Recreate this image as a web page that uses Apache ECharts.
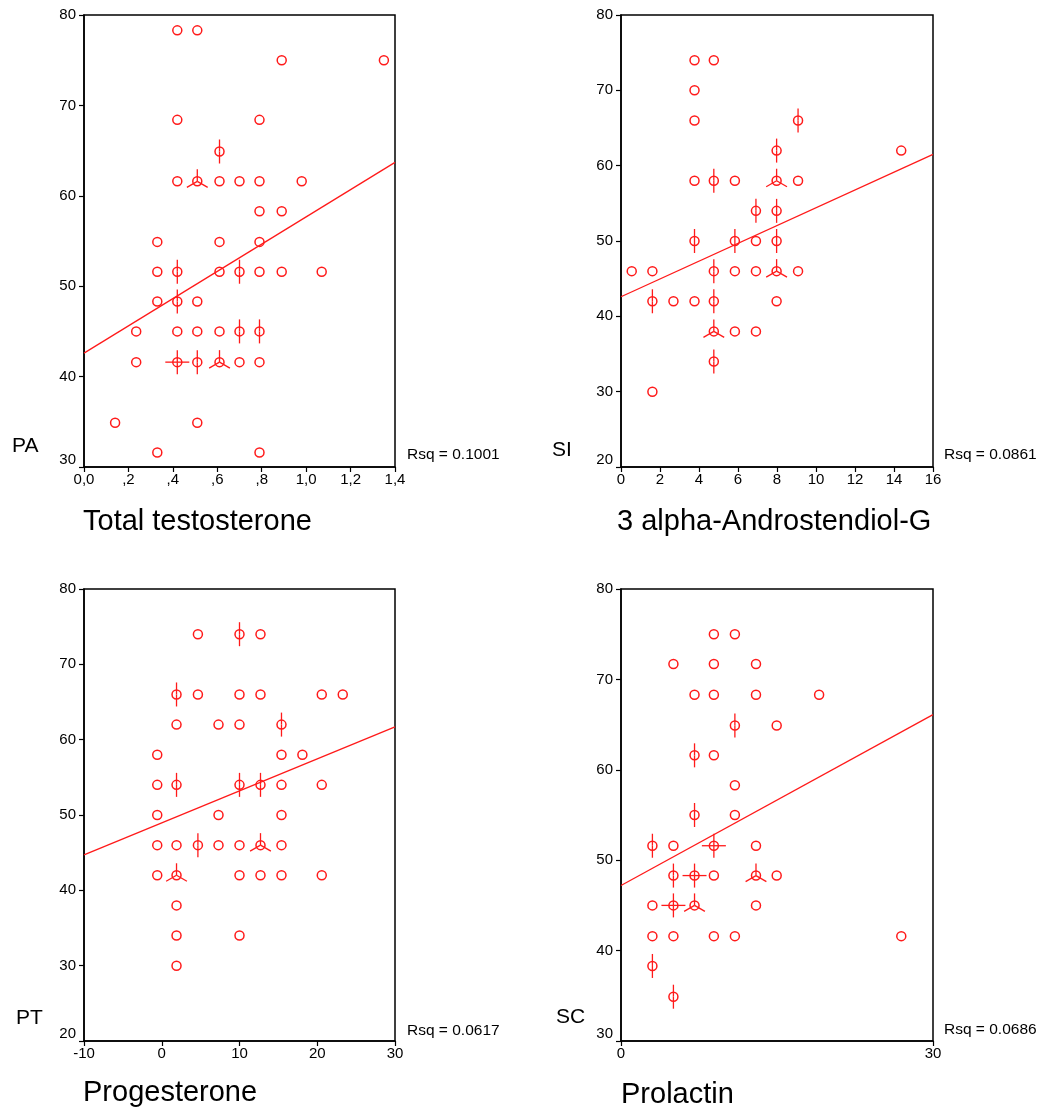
<!DOCTYPE html>
<html>
<head>
<meta charset="utf-8">
<title>Sunflower scatter plots</title>
<script src="https://cdn.jsdelivr.net/npm/echarts@6/dist/echarts.min.js"></script>
<style>
  html, body { margin: 0; padding: 0; background: #fff; }
  #chart { width: 1042px; height: 1112px; }
</style>
</head>
<body>
<div id="chart"></div>
<script>
// each point: [x, y, number of cases on that spot (sunflower petals)]
var testosteronePA = [
  [0.42, 78.3, 1], [0.51, 78.3, 1],
  [0.89, 75, 1], [1.35, 75, 1],
  [0.42, 68.4, 1], [0.79, 68.4, 1],
  [0.61, 64.9, 2],
  [0.42, 61.6, 1], [0.51, 61.6, 3], [0.61, 61.6, 1], [0.70, 61.6, 1], [0.79, 61.6, 1], [0.98, 61.6, 1],
  [0.79, 58.3, 1], [0.89, 58.3, 1],
  [0.33, 54.9, 1], [0.61, 54.9, 1], [0.79, 54.9, 1],
  [0.33, 51.6, 1], [0.42, 51.6, 2], [0.61, 51.6, 1], [0.70, 51.6, 2], [0.79, 51.6, 1], [0.89, 51.6, 1], [1.07, 51.6, 1],
  [0.33, 48.3, 1], [0.42, 48.3, 2], [0.51, 48.3, 1],
  [0.235, 45, 1], [0.42, 45, 1], [0.51, 45, 1], [0.61, 45, 1], [0.70, 45, 2], [0.79, 45, 2],
  [0.235, 41.6, 1], [0.42, 41.6, 4], [0.51, 41.6, 2], [0.61, 41.6, 3], [0.70, 41.6, 1], [0.79, 41.6, 1],
  [0.14, 34.9, 1], [0.51, 34.9, 1],
  [0.33, 31.6, 1], [0.79, 31.6, 1]
];
var androstendiolSI = [
  [3.77, 74, 1], [4.76, 74, 1],
  [3.77, 70, 1],
  [3.77, 66, 1], [9.08, 66, 2],
  [7.98, 62, 2], [14.37, 62, 1],
  [3.77, 58, 1], [4.76, 58, 2], [5.84, 58, 1], [7.98, 58, 3], [9.08, 58, 1],
  [6.92, 54, 2], [7.98, 54, 2],
  [3.77, 50, 2], [5.84, 50, 2], [6.92, 50, 1], [7.98, 50, 2],
  [0.55, 46, 1], [1.61, 46, 1], [4.76, 46, 2], [5.84, 46, 1], [6.92, 46, 1], [7.98, 46, 3], [9.08, 46, 1],
  [1.61, 42, 2], [2.69, 42, 1], [3.77, 42, 1], [4.76, 42, 2], [7.98, 42, 1],
  [4.76, 38, 3], [5.84, 38, 1], [6.92, 38, 1],
  [4.76, 34, 2],
  [1.61, 30, 1]
];
var progesteronePT = [
  [4.65, 74, 1], [10.0, 74, 2], [12.7, 74, 1],
  [1.9, 66, 2], [4.65, 66, 1], [10.0, 66, 1], [12.7, 66, 1], [20.58, 66, 1], [23.28, 66, 1],
  [1.9, 62, 1], [7.3, 62, 1], [10.0, 62, 1], [15.4, 62, 2],
  [-0.58, 58, 1], [15.4, 58, 1], [18.09, 58, 1],
  [-0.58, 54, 1], [1.9, 54, 2], [10.0, 54, 2], [12.7, 54, 2], [15.4, 54, 1], [20.58, 54, 1],
  [-0.58, 50, 1], [7.3, 50, 1], [15.4, 50, 1],
  [-0.58, 46, 1], [1.9, 46, 1], [4.65, 46, 2], [7.3, 46, 1], [10.0, 46, 1], [12.7, 46, 3], [15.4, 46, 1],
  [-0.58, 42, 1], [1.9, 42, 3], [10.0, 42, 1], [12.7, 42, 1], [15.4, 42, 1], [20.58, 42, 1],
  [1.9, 38, 1],
  [1.9, 34, 1], [10.0, 34, 1],
  [1.9, 30, 1]
];
var prolactinSC = [
  [8.93, 75, 1], [10.95, 75, 1],
  [5.04, 71.7, 1], [8.93, 71.7, 1], [12.98, 71.7, 1],
  [7.07, 68.3, 1], [8.93, 68.3, 1], [12.98, 68.3, 1], [19.05, 68.3, 1],
  [10.95, 64.9, 2], [14.97, 64.9, 1],
  [7.07, 61.6, 2], [8.93, 61.6, 1],
  [10.95, 58.3, 1],
  [7.07, 55, 2], [10.95, 55, 1],
  [3.02, 51.6, 2], [5.04, 51.6, 1], [8.93, 51.6, 4], [12.98, 51.6, 1],
  [5.04, 48.3, 2], [7.07, 48.3, 4], [8.93, 48.3, 1], [12.98, 48.3, 3], [14.97, 48.3, 1],
  [3.02, 45, 1], [5.04, 45, 4], [7.07, 45, 3], [12.98, 45, 1],
  [3.02, 41.6, 1], [5.04, 41.6, 1], [8.93, 41.6, 1], [10.95, 41.6, 1], [26.95, 41.6, 1],
  [3.02, 38.3, 2],
  [5.04, 34.9, 2]
];

// fit lines, end points
var fitPA = [[0, 42.6], [1.4, 63.7]];
var fitSI = [[0, 42.6], [16, 61.5]];
var fitPT = [[-10, 44.7], [30, 61.7]];
var fitSC = [[0, 47.2], [30, 66.1]];

var xTicksTestosterone = ['0,0', ',2', ',4', ',6', ',8', '1,0', '1,2', '1,4'];
var rsqLabels = ['Rsq = 0.1001', 'Rsq = 0.0861', 'Rsq = 0.0617', 'Rsq = 0.0686'];
var yNames = ['PA', 'SI', 'PT', 'SC'];
var xNames = ['Total testosterone', '3 alpha-Androstendiol-G', 'Progesterone', 'Prolactin'];

var RED = '#ff1a1a';
var FONT = '"Liberation Sans", Arial, sans-serif';

var panels = [
  { data: testosteronePA, fit: fitPA, xmin: 0, xmax: 1.4, xint: 0.2, ymin: 30, ymax: 80, labels: xTicksTestosterone },
  { data: androstendiolSI, fit: fitSI, xmin: 0, xmax: 16, xint: 2, ymin: 20, ymax: 80 },
  { data: progesteronePT, fit: fitPT, xmin: -10, xmax: 30, xint: 10, ymin: 20, ymax: 80 },
  { data: prolactinSC, fit: fitSC, xmin: 0, xmax: 30, xint: 30, ymin: 30, ymax: 80 }
];

var grids = [
  { left: 84, top: 15, width: 311, height: 452 },
  { left: 621, top: 15, width: 312, height: 452 },
  { left: 84, top: 589, width: 311, height: 452 },
  { left: 621, top: 589, width: 312, height: 452 }
];

// petal directions in degrees for a given count
function petalAngles(n) {
  if (n === 2) return [90, 270];
  if (n === 3) return [90, 210, 330];
  if (n === 4) return [0, 90, 180, 270];
  return [];
}

function renderSunflower(params, api) {
  var p = api.coord([api.value(0), api.value(1)]);
  var n = api.value(2);
  var kids = [{
    type: 'circle',
    shape: { cx: p[0], cy: p[1], r: 4.5 },
    style: { fill: 'none', stroke: RED, lineWidth: 1.5 }
  }];
  petalAngles(n).forEach(function (a) {
    var rad = a * Math.PI / 180;
    kids.push({
      type: 'line',
      shape: { x1: p[0], y1: p[1], x2: p[0] + 12 * Math.cos(rad), y2: p[1] - 12 * Math.sin(rad) },
      style: { stroke: RED, lineWidth: 1.3 }
    });
  });
  return { type: 'group', children: kids };
}

var axisCommon = {
  axisLine: { show: true, onZero: false, lineStyle: { color: '#000', width: 1.5 } },
  axisTick: { show: true, inside: false, length: 5, lineStyle: { color: '#000', width: 1.2 } },
  splitLine: { show: false }
};

var option = {
  backgroundColor: '#fff',
  animation: false,
  grid: grids.map(function (g) {
    return Object.assign({ show: true, borderColor: '#000', borderWidth: 1.5, backgroundColor: 'transparent' }, g);
  }),
  xAxis: panels.map(function (p, i) {
    return Object.assign({
      type: 'value', gridIndex: i, min: p.xmin, max: p.xmax, interval: p.xint,
      axisLabel: {
        color: '#000', fontSize: 15, fontFamily: FONT, margin: 5,
        formatter: p.labels ? function (v, idx) { return p.labels[idx]; } : null
      }
    }, axisCommon);
  }),
  yAxis: panels.map(function (p, i) {
    return Object.assign({
      type: 'value', gridIndex: i, min: p.ymin, max: p.ymax, interval: 10,
      axisLabel: { color: '#000', fontSize: 15, fontFamily: FONT, margin: 8, verticalAlignMinLabel: 'bottom' }
    }, axisCommon);
  }),
  series: [],
  graphic: []
};

panels.forEach(function (p, i) {
  option.series.push({
    type: 'line', xAxisIndex: i, yAxisIndex: i, data: p.fit,
    symbol: 'none', silent: true,
    lineStyle: { color: RED, width: 1.3 }
  });
  option.series.push({
    type: 'custom', xAxisIndex: i, yAxisIndex: i, data: p.data,
    renderItem: renderSunflower, silent: true
  });
});

// free texts: y names, Rsq, x titles
var yNamePos = [[12, 446], [552, 450], [16, 1018], [556, 1017]];
var rsqPos = [[407, 455], [944, 455], [407, 1031], [944, 1030]];
var xNamePos = [[83, 522], [617, 522], [83, 1093], [621, 1095]];

for (var i = 0; i < 4; i++) {
  option.graphic.push({
    type: 'text', x: yNamePos[i][0], y: yNamePos[i][1],
    style: { text: yNames[i], fill: '#000', font: '21px ' + FONT, verticalAlign: 'middle' }
  });
  option.graphic.push({
    type: 'text', x: rsqPos[i][0], y: rsqPos[i][1],
    style: { text: rsqLabels[i], fill: '#000', font: '15.5px ' + FONT, verticalAlign: 'middle' }
  });
  option.graphic.push({
    type: 'text', x: xNamePos[i][0], y: xNamePos[i][1],
    style: { text: xNames[i], fill: '#000', font: '29px ' + FONT, verticalAlign: 'middle' }
  });
}

var chart = echarts.init(document.getElementById('chart'));
chart.setOption(option);
</script>
</body>
</html>
